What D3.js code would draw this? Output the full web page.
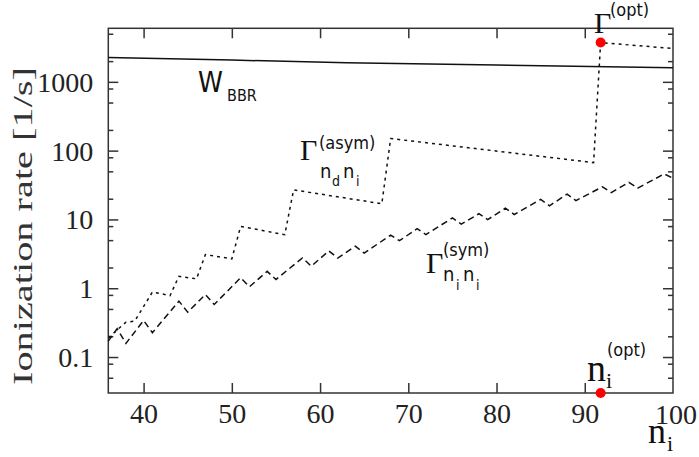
<!DOCTYPE html>
<html>
<head>
<meta charset="utf-8">
<script src="https://cdn.jsdelivr.net/npm/d3@7"></script>
<style>
  html, body { margin: 0; padding: 0; background: #fff; }
  svg { display: block; }
  .serif { font-family: "Liberation Serif", "Times New Roman", serif; }
  .sans { font-family: "DejaVu Sans Condensed", "DejaVu Sans", sans-serif; font-stretch: condensed; }
</style>
</head>
<body>
<svg id="chart" width="699" height="457"></svg>
<script>
// Principal quantum number axis
const nTicks = [40, 50, 60, 70, 80, 90, 100];
// Log-scale rate axis: labelled decades and unlabelled minor ticks
const rateDecades = [0.1, 1, 10, 100, 1000];
const rateMinor = [0.05, 0.08, 0.2, 0.5, 0.8, 2, 5, 8, 20, 50, 80, 200, 500, 800, 2000, 5000];

// Black-body radiation ionization rate W_BBR
const bbrN = [36, 50, 63, 80, 100];
const bbrRate = [2260, 2070, 1900, 1750, 1600];

// Symmetric Penning ionization rate Γ(sym)_{ni ni}
const symN = [36, 37, 38, 40, 41, 44, 45, 47, 48, 51, 52, 54, 55, 58, 59, 61, 62, 64, 65,
              68, 69, 71, 72, 75, 76, 78, 79, 81, 82, 85, 86, 88, 89, 92, 93, 95, 96, 99, 100];
const symRate = [0.17, 0.258, 0.158, 0.34, 0.226, 0.649, 0.449, 0.81, 0.58, 1.42, 1.05, 1.76, 1.34,
                 2.76, 2.09, 3.49, 2.74, 4.09, 3.24, 5.92, 4.91, 7.33, 6.03, 10.5, 8.55, 12.1, 9.93,
                 14.6, 11.8, 19.5, 15.8, 23.3, 18.8, 29.8, 24.6, 34.5, 28.5, 45.9, 39.8];

// Asymmetric Penning ionization rate Γ(asym)_{nd ni}
const asymN = [36, 38, 39, 41, 43, 44, 46, 47, 50, 51, 56, 57, 67, 68, 91, 91.8, 100];
const asymRate = [0.19, 0.321, 0.333, 0.88, 0.783, 1.49, 1.37, 3.08, 2.67, 7.92, 6.0, 26.9,
                  16.9, 150, 67, 3720, 3050];

// Optimum point
const nOpt = 91.8;
const gammaOpt = 3720;

const svg = d3.select("#chart");
const plot = { left: 108.3, right: 673, top: 28.3, bottom: 393 };

const x = d3.scaleLinear().domain([36, 100]).range([plot.left, plot.right]);
const y = d3.scaleLog().domain([0.03, 6000]).range([plot.bottom, plot.top]);

const axisColor = "#333";
const lineColor = "#111";

// Ticks on all four sides, pointing inward
function styleAxis(g) {
  g.select(".domain").remove();
  g.selectAll(".tick line").attr("stroke", axisColor).attr("stroke-width", 1.5);
  g.selectAll(".tick text").attr("class", "serif").attr("font-size", 28).attr("fill", "#222");
}

svg.append("g")
  .attr("transform", `translate(0,${plot.bottom})`)
  .call(d3.axisBottom(x).tickValues(nTicks.slice(0, -1)).tickSize(-10).tickPadding(10).tickFormat(d3.format("d")))
  .call(styleAxis);
// label for the right-hand end of the n axis
svg.append("text").attr("class", "serif").attr("font-size", 28).attr("fill", "#222")
  .attr("x", x(nTicks[nTicks.length - 1]) + 3).attr("y", plot.bottom + 31)
  .attr("text-anchor", "middle").text(nTicks[nTicks.length - 1]);

svg.append("g")
  .attr("transform", `translate(0,${plot.top})`)
  .call(d3.axisTop(x).tickValues(nTicks.slice(0, -1)).tickSize(-10).tickFormat(""))
  .call(styleAxis);

svg.append("g")
  .attr("transform", `translate(${plot.left},0)`)
  .call(d3.axisLeft(y).tickValues(rateDecades).tickSize(-10).tickPadding(15).tickFormat(d => String(d)))
  .call(styleAxis)
  .selectAll(".tick text").attr("dy", "0.34em");
svg.append("g")
  .attr("transform", `translate(${plot.left},0)`)
  .call(d3.axisLeft(y).tickValues(rateMinor).tickSize(-5).tickFormat(""))
  .call(styleAxis);

svg.append("g")
  .attr("transform", `translate(${plot.right},0)`)
  .call(d3.axisRight(y).tickValues(rateDecades).tickSize(-10).tickFormat(""))
  .call(styleAxis);
svg.append("g")
  .attr("transform", `translate(${plot.right},0)`)
  .call(d3.axisRight(y).tickValues(rateMinor).tickSize(-5).tickFormat(""))
  .call(styleAxis);

// Frame
svg.append("rect")
  .attr("x", plot.left).attr("y", plot.top)
  .attr("width", plot.right - plot.left).attr("height", plot.bottom - plot.top)
  .attr("fill", "none").attr("stroke", axisColor).attr("stroke-width", 1.5);

const line = d3.line().x(d => x(d[0])).y(d => y(d[1]));

svg.append("path")
  .datum(d3.zip(bbrN, bbrRate))
  .attr("d", line).attr("fill", "none").attr("stroke", lineColor).attr("stroke-width", 1.5);

svg.append("path")
  .datum(d3.zip(symN, symRate))
  .attr("d", line).attr("fill", "none").attr("stroke", lineColor).attr("stroke-width", 1.5)
  .attr("stroke-dasharray", "6.5,4");

svg.append("path")
  .datum(d3.zip(asymN, asymRate))
  .attr("d", line).attr("fill", "none").attr("stroke", lineColor).attr("stroke-width", 1.5)
  .attr("stroke-dasharray", "3,4");

// Optimum markers
svg.append("circle").attr("cx", x(nOpt)).attr("cy", y(gammaOpt)).attr("r", 5).attr("fill", "#f00");
svg.append("circle").attr("cx", x(nOpt)).attr("cy", plot.bottom).attr("r", 5).attr("fill", "#f00");

// Text helper: [text, x, y, size, cls]
function label(parts) {
  parts.forEach(([t, px, py, size, cls]) => {
    svg.append("text").attr("class", cls).attr("x", px).attr("y", py)
      .attr("font-size", size).attr("fill", "#111").text(t);
  });
}

// W_BBR
label([["W", 198, 92, 28, "sans"], ["BBR", 227, 101, 16, "sans"]]);

// Γ(asym)_{nd ni}
label([["Γ", 300, 160, 30, "serif"], ["(asym)", 319, 149, 18, "sans"],
       ["n", 320, 178, 20, "sans"], ["d", 332, 186, 14, "sans"],
       ["n", 343, 178, 20, "sans"], ["i", 356, 186, 14, "sans"]]);

// Γ(sym)_{ni ni}
label([["Γ", 426, 273, 30, "serif"], ["(sym)", 443, 256, 18, "sans"],
       ["n", 443, 281, 20, "sans"], ["i", 456, 290, 14, "sans"],
       ["n", 463, 281, 20, "sans"], ["i", 476, 290, 14, "sans"]]);

// Γ(opt)
label([["Γ", 594, 33, 30, "serif"], ["(opt)", 610, 16, 18, "sans"]]);

// n_i(opt)
label([["n", 587, 381, 38, "serif"], ["i", 606, 388, 22, "serif"], ["(opt)", 607, 356, 18, "sans"]]);

// axis titles
label([["n", 648, 443, 36, "serif"], ["i", 667, 451, 22, "serif"]]);

svg.append("text").attr("class", "serif")
  .attr("transform", "translate(32,226) rotate(-90)")
  .attr("text-anchor", "middle").attr("font-size", 28).attr("fill", "#333")
  .attr("textLength", 318).attr("lengthAdjust", "spacingAndGlyphs")
  .text("Ionization rate [1/s]");
</script>
</body>
</html>
